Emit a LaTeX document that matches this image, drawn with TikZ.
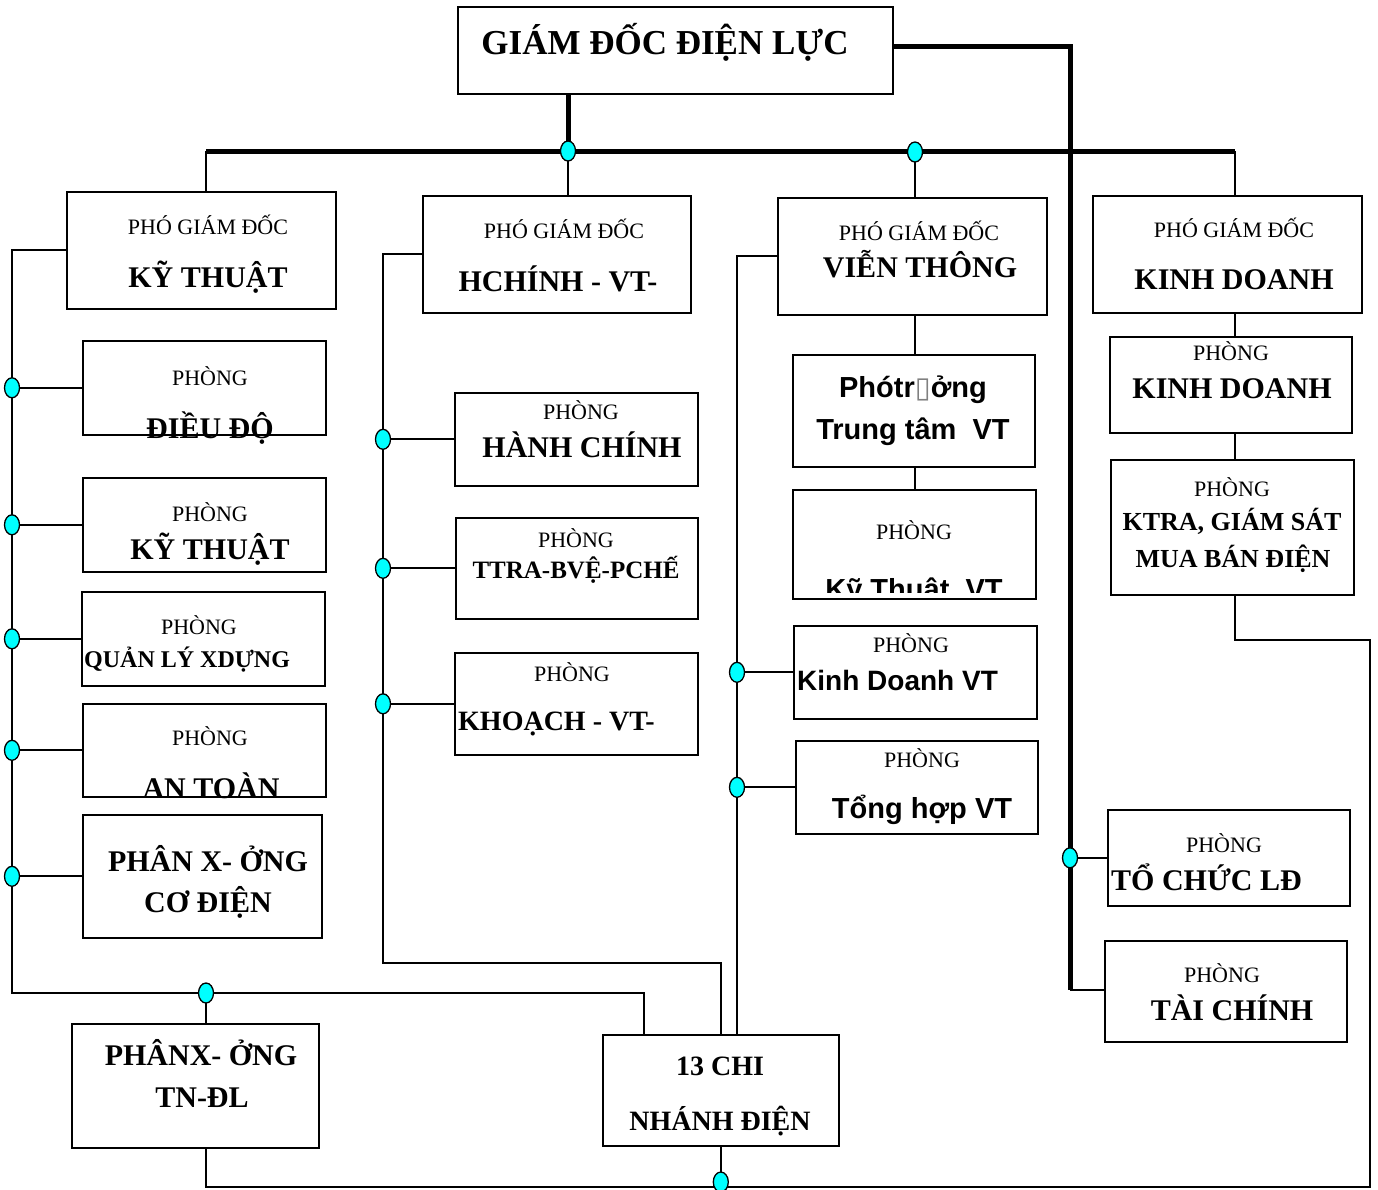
\documentclass[tikz,border=0pt]{standalone}
\usepackage{fontspec}
\setmainfont{Liberation Serif}
\newfontfamily\arialf{Liberation Sans}
\newfontfamily\dejavuf{DejaVu Sans}
\usetikzlibrary{shapes.geometric}
\definecolor{aqua}{RGB}{0,255,255}
\newcommand\mkbox[5]{\node[boxst, minimum width={#4pt-#2pt}, minimum height={#5pt-#3pt}] (#1) at (#2,#3) {};}
\begin{document}
\begin{tikzpicture}[x=1pt,y=-1pt,
 boxst/.style={draw, line width=1.6pt, inner sep=0pt, anchor=north west},
 conn/.style={line width=1.8pt},
 busline/.style={line width=5pt},
 dotst/.style={ellipse, draw, fill=aqua, line width=1.3pt, minimum width=15pt, minimum height=20pt, inner sep=0pt},
 txt/.style={anchor=base, inner sep=0pt},
 rg/.style={txt, font=\fontsize{#1}{#1}\selectfont},
 bd/.style={txt, font=\bfseries\fontsize{#1}{#1}\selectfont},
 ar/.style={txt, font=\arialf\bfseries\fontsize{#1}{#1}\selectfont},
]
\useasboundingbox (0,0) rectangle (1378,1189);
% ---------- boxes ----------
\mkbox{gd}{457}{6}{892}{93}
\mkbox{p1}{66}{191}{335}{308}
\mkbox{p2}{422}{195}{690}{312}
\mkbox{p3}{777}{197}{1046}{314}
\mkbox{p4}{1092}{195}{1361}{312}
\mkbox{dd}{82}{340}{325}{434}
\mkbox{kt}{82}{477}{325}{571}
\mkbox{ql}{81}{591}{324}{685}
\mkbox{at}{82}{703}{325}{796}
\mkbox{px}{82}{814}{321}{937}
\mkbox{hc}{454}{392}{697}{485}
\mkbox{tt}{455}{517}{697}{618}
\mkbox{kh}{454}{652}{697}{754}
\mkbox{pt}{792}{354}{1034}{466}
\mkbox{kv}{792}{489}{1035}{598}
\mkbox{dv}{793}{625}{1036}{718}
\mkbox{hv}{795}{740}{1037}{833}
\mkbox{kd}{1109}{336}{1351}{432}
\mkbox{ks}{1110}{459}{1353}{594}
\mkbox{tc}{1107}{809}{1349}{905}
\mkbox{tn}{1104}{940}{1346}{1041}
\mkbox{ph}{71}{1023}{318}{1147}
\mkbox{cn}{602}{1034}{838}{1145}
% ---------- junction coordinates ----------
\coordinate (busL) at (206,151);
\coordinate (busR) at (1235,151);
\coordinate (j1) at (568,151);
\coordinate (j2) at (915,152);
\coordinate (tr) at (1070,46);
\coordinate (lb) at (12,993);
\coordinate (c206) at (206,993);
\coordinate (c644) at (644,993);
\coordinate (mb) at (383,963);
\coordinate (vb) at (737,1034);
\coordinate (rx) at (1235,640);
\coordinate (rb1) at (1370,640);
\coordinate (rb2) at (1370,1187);
\coordinate (bb) at (206,1187);
\coordinate (tcj) at (1070,990);
% ---------- thick lines ----------
\draw[busline] (busL) -- (busR);
\draw[busline] (gd.south -| j1) -- (j1);
\draw[busline] (gd.east |- tr) -- (tr) -- (tcj);
% ---------- thin connectors ----------
\draw[conn] (busL) -- (busL |- p1.north);
\draw[conn] (j1) -- (j1 |- p2.north);
\draw[conn] (j2) -- (j2 |- p3.north);
\draw[conn] (busR) -- (busR |- p4.north);
% left column
\draw[conn] (p1.west) -| (lb) -- (c644) -- (c644 |- cn.north);
\foreach \b in {dd,kt,ql,at,px} \draw[conn] (\b.west) -- (\b.west -| lb);
\draw[conn] (c206) -- (c206 |- ph.north);
% middle column
\draw[conn] (p2.west) -| (mb) -| (cn.north);
\foreach \b in {hc,tt,kh} \draw[conn] (\b.west) -- (\b.west -| mb);
% VT column
\draw[conn] (p3.west) -| (vb);
\foreach \b in {dv,hv} \draw[conn] (\b.west) -- (\b.west -| vb);
\draw[conn] (j2 |- p3.south) -- (j2 |- pt.north);
\draw[conn] (j2 |- pt.south) -- (j2 |- kv.north);
% right column
\draw[conn] (busR |- p4.south) -- (busR |- kd.north);
\draw[conn] (busR |- kd.south) -- (busR |- ks.north);
\draw[conn] (busR |- ks.south) -- (rx) -- (rb1) -- (rb2) -- (bb) -- (bb |- ph.south);
\draw[conn] (cn.south) -- (cn.south |- bb);
\draw[conn] (tc.west -| tcj) -- (tc.west);
\draw[conn] (tcj) -- (tcj -| tn.west);
% ---------- dots ----------
\node[dotst] (d1) at (j1) {};
\node[dotst] (d2) at (j2) {};
\foreach \b in {dd,kt,ql,at,px} \node[dotst] (d\b) at (\b.west -| lb) {};
\foreach \b in {hc,tt,kh} \node[dotst] (d\b) at (\b.west -| mb) {};
\foreach \b in {dv,hv} \node[dotst] (d\b) at (\b.west -| vb) {};
\node[dotst] (dtc) at (tc.west -| tcj) {};
\node[dotst] (d206) at (c206) {};
\node[dotst] (dcn) at (cn.south |- 0,1182) {};
% ---------- texts ----------
\node[bd=35] (tgd) at (665,54) {GIÁM ĐỐC ĐIỆN LỰC};
\node[rg=22] (tp1a) at (208,234) {PHÓ GIÁM ĐỐC};
\node[bd=30] (tp1b) at (208,287) {KỸ THUẬT};
\node[rg=22] (tp2a) at (564,238) {PHÓ GIÁM ĐỐC};
\node[bd=30] (tp2b) at (558,291) {HCHÍNH - VT-};
\node[rg=22] (tp3a) at (919,240) {PHÓ GIÁM ĐỐC};
\node[bd=30] (tp3b) at (920,277) {VIỄN THÔNG};
\node[rg=22] (tp4a) at (1234,237) {PHÓ GIÁM ĐỐC};
\node[bd=30] (tp4b) at (1234,289) {KINH DOANH};
% left
\node[rg=22] (tdda) at (210,385) {PHÒNG};
\node[bd=30] (tddb) at (210,438) {ĐIỀU ĐỘ};
\node[rg=22] (tkta) at (210,521) {PHÒNG};
\node[bd=30] (tktb) at (210,559) {KỸ THUẬT};
\node[rg=22] (tqla) at (199,634) {PHÒNG};
\node[bd=24, anchor=base west] (tqlb) at (84,667) {QUẢN LÝ XDỰNG};
\node[rg=22] (tata) at (210,745) {PHÒNG};
\node[bd=30] (tatb) at (211,798) {AN TOÀN};
\node[bd=30] (tpxa) at (208,871) {PHÂN X- ỞNG};
\node[bd=30] (tpxb) at (208,912) {CƠ ĐIỆN};
% middle
\node[rg=22] (thca) at (581,419) {PHÒNG};
\node[bd=30] (thcb) at (582,457) {HÀNH CHÍNH};
\node[rg=22] (ttta) at (576,547) {PHÒNG};
\node[bd=25] (tttb) at (576,578) {TTRA-BVỆ-PCHẾ};
\node[rg=22] (tkha) at (572,681) {PHÒNG};
\node[bd=28, anchor=base west] (tkhb) at (458,730) {KHOẠCH - VT-};
% VT
\node[ar=29] (tpta) at (913,397) {Phótr{\dejavuf\color{gray}▯}ởng};
\node[ar=29] (tptb) at (913,439) {Trung tâm\ \ VT};
\node[rg=22] (tkva) at (914,539) {PHÒNG};
\begin{scope}
\clip (792,489) rectangle (1035,592);
\node[ar=29] (tkvb) at (914,599) {Kỹ Thuật\ \ VT};
\end{scope}
\node[rg=22] (tdva) at (911,652) {PHÒNG};
\node[ar=28, anchor=base west] (tdvb) at (797,690) {Kinh Doanh VT};
\node[rg=22] (thva) at (922,767) {PHÒNG};
\node[ar=29] (thvb) at (922,818) {Tổng hợp VT};
% right
\node[rg=22] (tkda) at (1231,360) {PHÒNG};
\node[bd=30] (tkdb) at (1232,398) {KINH DOANH};
\node[rg=22] (tksa) at (1232,496) {PHÒNG};
\node[bd=26] (tksb) at (1232,530) {KTRA, GIÁM SÁT};
\node[bd=26] (tksc) at (1233,567) {MUA BÁN ĐIỆN};
\node[rg=22] (ttca) at (1224,852) {PHÒNG};
\node[bd=30, anchor=base west] (ttcb) at (1111,890) {TỔ CHỨC LĐ};
\node[rg=22] (ttna) at (1222,982) {PHÒNG};
\node[bd=30] (ttnb) at (1232,1020) {TÀI CHÍNH};
% bottom
\node[bd=30] (tpha) at (201,1065) {PHÂNX- ỞNG};
\node[bd=30] (tphb) at (202,1107) {TN-ĐL};
\node[bd=28] (tcna) at (720,1075) {13 CHI};
\node[bd=28] (tcnb) at (720,1130) {NHÁNH ĐIỆN};
\end{tikzpicture}
\end{document}
